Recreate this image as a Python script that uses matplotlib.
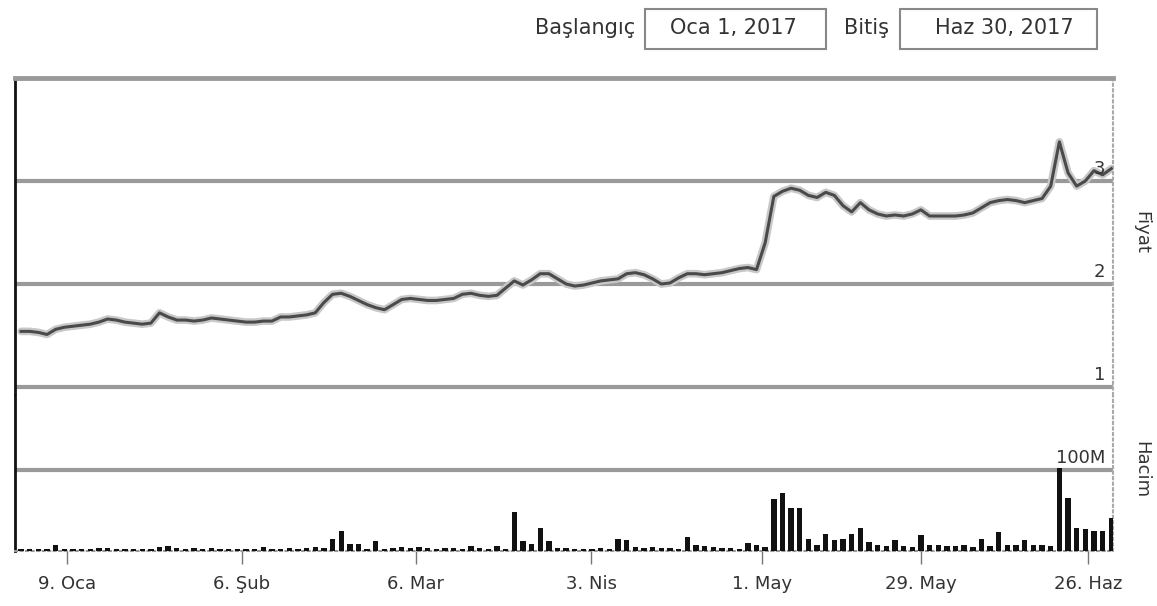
import matplotlib
matplotlib.use("Agg")
import matplotlib.pyplot as plt
from matplotlib.patches import Rectangle
from matplotlib.transforms import blended_transform_factory

# Chart data (one value per trading day, Jan - Jun 2017)
price = [1.54, 1.54, 1.53, 1.51, 1.56, 1.58, 1.59, 1.60, 1.61, 1.63,
         1.66, 1.65, 1.63, 1.62, 1.61, 1.62, 1.72, 1.68, 1.65, 1.65,
         1.64, 1.65, 1.67, 1.66, 1.65, 1.64, 1.63, 1.63, 1.64, 1.64,
         1.68, 1.68, 1.69, 1.70, 1.72, 1.82, 1.90, 1.91, 1.88, 1.84,
         1.80, 1.77, 1.75, 1.80, 1.85, 1.86, 1.85, 1.84, 1.84, 1.85,
         1.86, 1.90, 1.91, 1.89, 1.88, 1.89, 1.96, 2.03, 1.99, 2.04,
         2.10, 2.10, 2.05, 2.00, 1.98, 1.99, 2.01, 2.03, 2.04, 2.05,
         2.10, 2.11, 2.09, 2.05, 2.00, 2.01, 2.06, 2.10, 2.10, 2.09,
         2.10, 2.11, 2.13, 2.15, 2.16, 2.14, 2.40, 2.85, 2.90, 2.93,
         2.91, 2.86, 2.84, 2.89, 2.86, 2.76, 2.70, 2.79, 2.72, 2.68,
         2.66, 2.67, 2.66, 2.68, 2.72, 2.66, 2.66, 2.66, 2.66, 2.67,
         2.69, 2.74, 2.79, 2.81, 2.82, 2.81, 2.79, 2.81, 2.83, 2.95,
         3.38, 3.08, 2.95, 3.00, 3.10, 3.06, 3.12]

volume_m = [3, 2, 3, 3, 7, 2, 2, 3, 3, 4,
            4, 3, 2, 3, 3, 2, 5, 6, 4, 3,
            4, 3, 4, 3, 2, 3, 2, 3, 5, 3,
            3, 4, 3, 4, 5, 4, 15, 25, 9, 9,
            3, 12, 3, 4, 5, 4, 5, 4, 3, 4,
            4, 3, 6, 4, 3, 6, 3, 48, 12, 9,
            28, 12, 4, 4, 3, 2, 3, 4, 3, 15,
            13, 5, 4, 5, 4, 4, 3, 17, 7, 6,
            5, 4, 4, 3, 10, 7, 5, 64, 72, 53,
            53, 15, 7, 21, 13, 15, 21, 29, 11, 8,
            6, 13, 6, 5, 20, 8, 7, 6, 6, 7,
            5, 15, 6, 23, 8, 8, 13, 7, 7, 6,
            102, 65, 28, 27, 25, 25, 41]

tick_days = [5.3, 25.5, 45.6, 65.9, 85.6, 104, 123.3]
tick_labels = ["9. Oca", "6. Şub", "6. Mar", "3. Nis", "1. May", "29. May", "26. Haz"]
price_levels = [1, 2, 3]
volume_levels = [100]

days = list(range(len(price)))

W, H = 1157, 606


def rect(l, t, r, b):
    return [l / W, 1 - b / H, (r - l) / W, (b - t) / H]


fig = plt.figure(figsize=(W / 100, H / 100), dpi=100)
plt.rcParams['font.family'] = ['DejaVu Sans']

ax_p = fig.add_axes(rect(15, 78, 1113, 395))
ax_v = fig.add_axes(rect(15, 395, 1113, 551), sharex=ax_p)

grid_c = '#9a9a9a'
txt_c = '#333333'

# price panel
ax_p.plot(days, price, color='#c8c8c8', lw=5.5, solid_capstyle='round', zorder=2)
ax_p.plot(days, price, color='#4a4a4a', lw=2.2, zorder=3)
for lv in price_levels:
    ax_p.axhline(lv, color=grid_c, lw=3, zorder=1)
ax_p.set_ylim(4 - 317 / 103, 4)
ax_p.set_xlim(-0.7, 126.2)
tr = blended_transform_factory(ax_p.transAxes, ax_p.transData)
for lv in price_levels:
    ax_p.text(0.993, lv + 0.03, str(lv), transform=tr, ha='right', va='bottom',
              fontsize=13, color=txt_c)

for s in ['bottom']:
    ax_p.spines[s].set_visible(False)
ax_p.spines['top'].set_color(grid_c)
ax_p.spines['top'].set_linewidth(3.5)
ax_p.spines['left'].set_color('#111111')
ax_p.spines['left'].set_linewidth(2)
ax_p.spines['right'].set_color('#aaaaaa')
ax_p.spines['right'].set_linestyle(':')
ax_p.spines['right'].set_linewidth(1.5)
ax_p.tick_params(left=False, right=False, bottom=False, labelleft=False, labelbottom=False)

# volume panel
ax_v.bar(days, volume_m, width=0.62, color='#111111', zorder=3)
for lv in volume_levels:
    ax_v.axhline(lv, color=grid_c, lw=3, zorder=1)
ax_v.set_ylim(0, 156 / 81 * 100)
trv = blended_transform_factory(ax_v.transAxes, ax_v.transData)
ax_v.text(0.993, 104, "100M", transform=trv, ha='right', va='bottom',
          fontsize=13, color=txt_c)

ax_v.spines['top'].set_visible(False)
ax_v.spines['left'].set_color('#111111')
ax_v.spines['left'].set_linewidth(2)
ax_v.spines['right'].set_color('#aaaaaa')
ax_v.spines['right'].set_linestyle(':')
ax_v.spines['right'].set_linewidth(1.5)
ax_v.spines['bottom'].set_color('#999999')
ax_v.spines['bottom'].set_linestyle(':')
ax_v.spines['bottom'].set_linewidth(1.5)
ax_v.set_xticks(tick_days)
ax_v.set_xticklabels(tick_labels, fontsize=13, color=txt_c)
ax_v.tick_params(axis='x', direction='out', length=9, width=1, color='#777777', pad=8)
ax_v.tick_params(left=False, labelleft=False)

# side titles
fig.text(1141 / W, 1 - 232 / H, "Fiyat", rotation=270, ha='center', va='center',
         fontsize=13, color=txt_c)
fig.text(1141 / W, 1 - 470 / H, "Hacim", rotation=270, ha='center', va='center',
         fontsize=13, color=txt_c)

# date range header
fig.text(585 / W, 1 - 28 / H, "Başlangıç", ha='center', va='center', fontsize=15, color=txt_c)
fig.text(733 / W, 1 - 28 / H, "Oca 1, 2017", ha='center', va='center', fontsize=15, color=txt_c)
fig.text(866 / W, 1 - 28 / H, "Bitiş", ha='center', va='center', fontsize=15, color=txt_c)
fig.text(1004 / W, 1 - 28 / H, "Haz 30, 2017", ha='center', va='center', fontsize=15, color=txt_c)
for l, r in [(645, 826), (900, 1097)]:
    fig.add_artist(Rectangle((l / W, 1 - 49 / H), (r - l) / W, 40 / H,
                             transform=fig.transFigure, fill=False,
                             ec='#888888', lw=1.5))

fig.savefig("out.png", dpi=100)
